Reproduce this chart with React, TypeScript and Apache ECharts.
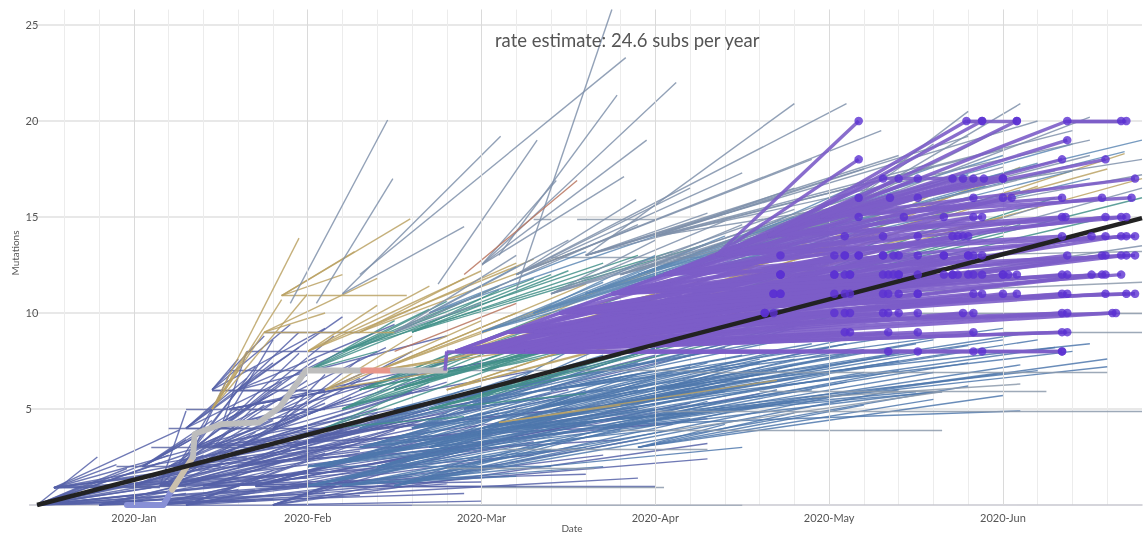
import React, { useEffect, useRef } from "react";
import * as echarts from "echarts";

// x values: months since 2020-01-01 ; y values: mutations from root
const monthLabels = ["2020-Jan", "2020-Feb", "2020-Mar", "2020-Apr", "2020-May", "2020-Jun"];
const monthTicks = [0, 1, 2, 3, 4, 5];
const mutationTicks = [5, 10, 15, 20, 25];
const rateText = "rate estimate: 24.6 subs per year";

const regressionLine = [[-0.557, 0], [5.8, 14.94]];

// fans: [parentX, parentY, childX1, childY1, childX2, childY2, ...]
const slateFans = [
  [-0.557, 0, -0.21, 2.5, -0.04, 1.9, 0.1, 0.9, 0.3, 1.6, 0.55, 2.2, 0.8, 1.2, 1.1, 0.6, 0.4, 0.4, 0.9, 2.9, 1.4, 1.8, -0.3, 1.0, 0.2, 2.6, 0.7, 0.2],
  [-0.557, 0, 0.0, 0.5, 0.2, 1.2, 0.5, 1.0, 0.35, 2.8, 0.15, 2.2, 0.6, 1.6, 0.95, 0.9, 1.25, 1.2, 0.05, 0.2],
  [-0.46, 0.9, 0.15, 0.9, 0.26, 3.9, 0.45, 3.2, 0.7, 2.4, 1.0, 3.3, 1.3, 2.8, 1.7, 2.0, 2.0, 1.2, -0.1, 2.1, 0.05, 1.5],
  [-0.2, 0.0, 0.3, 0.6, 0.6, 1.4, 0.9, 2.4, 1.2, 3.0, 0.5, 0.2, 1.6, 1.5, 1.9, 0.6],
  [0.0, 1.0, 0.4, 2.6, 0.7, 3.3, 1.0, 4.0, 1.3, 4.6, 1.7, 3.9, 2.0, 3.2, 0.9, 1.6],
  [0.05, 2.0, 0.3, 3.4, 0.45, 4.4, 0.6, 5.0, 0.8, 5.8, 1.0, 6.8, 0.7, 3.0],
  [0.15, 1.0, 0.3, 4.9, 0.5, 4.2, 0.7, 3.8, 0.95, 4.6, 1.2, 3.9, 1.55, 4.4, 1.9, 3.6, 2.3, 2.6, 2.6, 1.6, 1.0, 1.4, 0.4, 2.0],
  [0.2, 1.0, 0.5, 2.8, 0.75, 3.2, 1.0, 2.6, 1.3, 3.6, 1.6, 4.2],
  [0.2, 2.0, 0.5, 3.6, 0.8, 4.4, 1.1, 5.3, 1.4, 5.0, 1.8, 4.8, 2.2, 4.4, 0.65, 2.5],
  [0.25, 2.0, 0.45, 5.0, 0.6, 6.0, 0.75, 5.2, 1.0, 6.5, 1.25, 5.6, 1.6, 5.9, 2.0, 5.0, 2.4, 4.3, 2.8, 3.4, 0.5, 2.0, 0.55, 3.0],
  [0.3, 0.0, 0.8, 1.8, 1.1, 2.7, 1.5, 3.9, 1.9, 2.9, 2.3, 3.3, 2.7, 2.6, 1.3, 0.5],
  [0.3, 4.0, 0.5, 5.6, 0.65, 6.6, 0.8, 7.4, 0.95, 8.2, 1.2, 8.0, 0.55, 4.0],
  [0.35, 3.0, 0.55, 6.8, 0.7, 7.2, 0.85, 6.4, 1.05, 7.6, 1.35, 7.0, 1.75, 6.8, 2.2, 6.2, 2.7, 5.2, 3.1, 4.2, 0.8, 3.0, 0.6, 4.0],
  [0.45, 3.0, 0.75, 5.6, 1.0, 5.9, 1.3, 6.6, 1.7, 6.2, 2.1, 5.6, 2.5, 5.0],
  [0.45, 6.0, 0.6, 7.6, 0.75, 8.8, 0.9, 9.4, 1.1, 9.2, 1.0, 6.0],
  [0.5, 4.0, 0.65, 8.0, 0.8, 8.6, 0.95, 7.9, 1.15, 8.8, 1.45, 8.2, 1.85, 7.6, 2.3, 7.0, 0.7, 4.0, 0.9, 5.0],
  [0.1, 0.0, 0.6, 0.8, 1.0, 1.8, 1.4, 2.6, 1.8, 1.1, 2.1, 2.1, 2.5, 2.9, 2.9, 1.4, 3.3, 2.4, 1.6, 0.0, 0.8, 0.3],
  [0.6, 2.0, 1.0, 3.6, 1.3, 4.3, 1.6, 5.2, 2.0, 5.8, 2.4, 5.5, 2.9, 5.0, 3.3, 4.5],
  [0.6, 3.0, 0.9, 4.4, 1.1, 5.8, 1.4, 6.4, 1.8, 6.4, 2.1, 6.0],
  [0.7, 1.0, 1.2, 2.2, 1.6, 3.4, 2.0, 4.2, 2.4, 4.9, 2.8, 4.6, 3.2, 5.3, 3.6, 5.8, 2.2, 1.0, 3.0, 1.0],
  [0.8, 0.0, 1.3, 1.6, 1.7, 2.8, 2.1, 3.8, 2.5, 4.4, 2.9, 3.4, 3.3, 3.2, 2.0, 0.2],
  [0.8, 4.0, 1.1, 6.8, 1.3, 7.6, 1.6, 8.0, 2.0, 8.2, 1.2, 4.0],
  [0.9, 3.0, 1.4, 4.8, 1.8, 5.6, 2.2, 6.6, 2.6, 7.2, 3.0, 7.8, 3.4, 8.2, 1.6, 3.0, 2.5, 6.0],
  [0.6, 6.0, 0.95, 9.0, 1.2, 9.8, 1.5, 9.4, 1.1, 6.0, 1.8, 8.8],
  [0.4, 1.0, 0.9, 2.0, 1.3, 3.5, 1.7, 4.5, 2.1, 3.0, 2.5, 3.8, 1.5, 1.2],
  [0.55, 5.0, 1.1, 5.0, 1.3, 6.2, 1.6, 7.0, 2.0, 7.4, 2.5, 8.2],
];

// single segments: [x1, y1, x2, y2]
const slateSegments = [
  [0.1, 3, 0.6, 3], [0.2, 4, 0.8, 4], [0.3, 5, 0.9, 5], [0.45, 6, 1.0, 6], [0.55, 7, 1.2, 7],
  [0.65, 8, 1.2, 8], [0.75, 9, 1.3, 9], [-0.1, 2, 0.4, 2], [-0.3, 1, 0.3, 1],
];

const steelFans = [
  [1.0, 2.0, 1.8, 3.0, 2.2, 4.0, 2.6, 5.0, 3.0, 5.6, 3.4, 6.2, 3.8, 6.6, 4.2, 6.9, 4.6, 5.9, 5.0, 6.9, 2.4, 2.0, 3.0, 3.9],
  [1.0, 1.0, 1.6, 2.0, 2.0, 3.0, 2.3, 3.9, 2.6, 4.2, 3.0, 4.7, 3.4, 5.1, 3.8, 5.4, 2.2, 1.5],
  [1.1, 2.0, 1.7, 3.8, 2.1, 4.8, 2.5, 5.6, 2.9, 6.0, 3.3, 6.6, 3.7, 7.0],
  [1.2, 1.0, 2.0, 2.0, 2.4, 2.9, 2.8, 3.9, 3.1, 3.9, 2.7, 2.0, 3.5, 3.0],
  [1.3, 3.0, 2.0, 4.8, 2.4, 5.8, 2.8, 6.6, 3.2, 7.2, 3.6, 7.6, 4.0, 8.2, 4.4, 7.5, 3.0, 5.0, 5.2, 7.0, 5.6, 7.2],
  [1.3, 4.0, 1.9, 6.0, 2.3, 7.0, 2.7, 7.8, 3.1, 8.4, 3.5, 8.6, 3.9, 8.9],
  [1.4, 2.0, 2.0, 3.6, 2.4, 4.6, 2.8, 5.4, 3.2, 5.9, 3.6, 6.4, 4.0, 6.8, 4.4, 7.0, 2.6, 3.0],
  [1.5, 1.0, 2.0, 2.6, 2.4, 3.4, 2.8, 4.2, 3.2, 4.9, 3.6, 5.2, 4.0, 5.6, 4.4, 6.0, 4.8, 6.2],
  [1.5, 5.0, 2.0, 6.2, 2.4, 6.6, 2.9, 7.4, 3.3, 8.0, 3.7, 8.6, 4.1, 7.9],
  [1.6, 4.0, 2.2, 6.4, 2.6, 7.4, 3.0, 8.2, 3.4, 8.8, 3.8, 9.2, 4.3, 9.0, 3.2, 6.4, 5.4, 8.0],
  [1.7, 3.0, 2.2, 5.0, 2.6, 6.0, 3.0, 6.6, 3.4, 7.1, 3.8, 7.6, 4.2, 8.1, 4.8, 7.4, 3.2, 4.5],
  [1.9, 5.0, 2.5, 8.0, 2.9, 9.0, 3.3, 9.6, 3.7, 10.2, 4.1, 10.0, 2.7, 6.0, 3.6, 7.0],
  [2.0, 4.0, 2.6, 5.8, 3.0, 6.4, 3.4, 6.9, 3.8, 7.3, 4.3, 7.7, 4.8, 8.0, 5.3, 8.2],
  [2.2, 4.0, 2.9, 5.0, 3.4, 5.9, 3.9, 6.0, 4.5, 5.9, 5.1, 4.9, 3.3, 4.9, 4.65, 5.9],
  [2.3, 5.0, 2.9, 6.8, 3.3, 7.4, 3.7, 8.0, 4.1, 8.4, 4.6, 8.6, 5.1, 8.9],
  [2.4, 6.0, 3.0, 7.0, 3.5, 7.8, 3.9, 8.4, 4.4, 8.8, 5.0, 9.2],
  [2.6, 5.0, 3.2, 6.1, 3.6, 6.8, 4.0, 7.2, 4.4, 7.9, 4.8, 8.3, 5.2, 8.6],
  [2.7, 4.0, 3.3, 5.4, 3.7, 6.0, 4.1, 6.4, 4.6, 6.9, 5.1, 7.3, 5.6, 7.6],
  [2.9, 3.0, 3.4, 4.2, 3.8, 4.8, 4.2, 5.2, 4.6, 5.5, 5.0, 5.7],
  [3.0, 6.0, 3.6, 7.4, 4.0, 7.9, 4.5, 8.4, 5.0, 8.6, 5.5, 8.4],
];

// steel-blue band just above the purple clade
const bandFans = [
  [2.0, 9.0, 2.7, 11.6, 3.1, 12.6, 3.5, 13.4, 3.9, 14.4, 4.3, 14.8],
  [2.3, 10.0, 3.0, 13.0, 3.4, 14.0, 3.8, 15.0, 4.2, 15.6, 4.6, 16.4, 5.0, 17.0],
  [2.6, 11.0, 3.3, 13.6, 3.7, 14.6, 4.1, 15.4, 4.5, 16.0, 4.9, 16.6, 5.4, 17.4],
  [2.9, 12.0, 3.6, 14.4, 4.0, 15.4, 4.4, 16.4, 4.8, 17.2, 5.2, 17.8, 5.7, 18.4],
  [3.2, 12.0, 3.9, 14.2, 4.3, 15.0, 4.7, 15.8, 5.1, 16.4, 5.5, 17.0],
  [3.5, 14.0, 4.2, 16.8, 4.6, 17.6, 5.0, 18.2, 5.4, 18.8, 5.8, 19.0],
  [1.7, 10.0, 2.2, 12.4, 2.6, 13.2, 3.0, 14.0],
];

const greySegments = [
  [2.1, 2.9, 3.3, 2.9], [1.8, 1.9, 2.65, 1.9], [2.0, 0.95, 3.05, 0.95], [1.6, 0, 3.5, 0],
  [2.8, 3.9, 4.65, 3.9], [3.0, 4.9, 5.8, 4.9], [3.6, 5.9, 5.25, 5.9], [3.2, 6.9, 5.6, 6.9],
  [3.1, 3.9, 4.65, 5.9], [3.9, 5.6, 5.1, 6.3], [1.0, 7.0, 3.2, 7.0], [2.4, 12.9, 3.6, 12.9],
  [2.3, 14.9, 2.4, 14.9], [2.55, 14.9, 3.0, 14.9], [4.5, 10.0, 5.8, 10.0], [4.6, 13.0, 5.8, 13.2],
  [4.2, 11.0, 5.8, 11.6], [5.0, 9.0, 5.8, 9.0],
];

const oliveFans = [
  [0.45, 5.0, 0.75, 9.0, 0.85, 10.7, 0.95, 13.9, 1.0, 11.0, 0.65, 8.0, 0.6, 7.0],
  [0.85, 10.9, 1.57, 10.9, 1.27, 13.2, 1.59, 14.9, 1.2, 12.0],
  [0.75, 9.0, 1.5, 9.0, 1.1, 10.0, 1.4, 11.8],
  [1.0, 8.0, 1.4, 10.4, 1.7, 11.4, 2.0, 12.2, 2.3, 12.8],
  [1.1, 6.0, 1.6, 8.8, 2.0, 9.6, 2.4, 10.4, 1.8, 7.0],
  [1.3, 9.0, 1.9, 11.8, 2.2, 12.6, 2.6, 13.4],
  [1.4, 7.0, 2.2, 10.0, 2.6, 11.5, 3.0, 12.2, 2.4, 8.5, 3.4, 9.5, 3.9, 11.0],
  [1.9, 8.0, 2.6, 10.8, 3.1, 11.8, 3.6, 12.2, 4.1, 13.5],
  [2.1, 4.3, 3.7, 6.5, 2.8, 5.2],
  [1.8, 6.0, 2.8, 9.0, 3.3, 10.5, 4.3, 12.0, 4.8, 13.0],
  [2.6, 10.0, 3.6, 12.5, 4.2, 14.0, 5.0, 15.0],
  [3.0, 10.0, 3.8, 13.4, 4.5, 15.2, 5.2, 16.6, 5.8, 17.0],
  [3.4, 12.0, 4.4, 15.5, 5.0, 17.0, 5.6, 17.5],
  [3.9, 13.0, 4.6, 16.2, 5.1, 17.6, 5.7, 18.3],
];

const tealFans = [
  [1.0, 7.0, 1.5, 9.6, 1.8, 10.6, 2.1, 11.4, 2.4, 12.0, 1.4, 8.0],
  [1.1, 4.0, 1.7, 6.4, 2.1, 7.2, 2.5, 7.0, 1.9, 4.6],
  [1.2, 5.0, 1.8, 7.6, 2.2, 8.8, 2.6, 9.4, 3.0, 10.0, 1.6, 6.0],
  [1.2, 8.0, 1.7, 10.2, 2.0, 11.0, 2.3, 11.8, 2.7, 12.6, 3.1, 13.2],
  [1.3, 6.0, 2.0, 8.5, 2.4, 10.0, 2.8, 10.8, 3.2, 11.4, 2.2, 7.6, 3.0, 9.2],
  [1.5, 6.0, 2.1, 8.2, 2.5, 9.0, 2.9, 9.8, 3.3, 10.6, 3.7, 11.4, 4.2, 12.2],
  [1.6, 9.0, 2.1, 11.2, 2.5, 12.2, 2.9, 13.0, 3.3, 13.6],
  [1.7, 5.0, 2.4, 6.8, 2.8, 7.8, 3.2, 8.6, 3.6, 9.4, 4.0, 9.8, 2.6, 5.8],
  [2.0, 7.0, 2.7, 9.6, 3.1, 10.2, 3.5, 11.0, 4.0, 11.5, 4.6, 12.0],
  [2.3, 8.0, 3.0, 10.6, 3.4, 11.6, 3.9, 12.4, 4.4, 13.2, 5.0, 14.0],
  [2.8, 9.0, 3.5, 11.8, 4.0, 12.8, 4.5, 13.6, 5.1, 14.6, 5.6, 15.0],
  [3.6, 11.0, 4.3, 13.8, 4.8, 15.0, 5.3, 16.0, 5.8, 16.0],
];

const skyFans = [
  [0.9, 10.5, 1.46, 20.05],
  [1.05, 10.5, 1.49, 17.0],
  [1.2, 11.0, 2.11, 19.2, 1.9, 14.5],
  [1.3, 12.0, 2.83, 23.3],
  [2.2, 11.2, 2.75, 25.8],
  [2.1, 13.0, 2.78, 21.35],
  [1.75, 11.5, 2.32, 19.0],
  [1.5, 9.0, 2.2, 13.0, 2.5, 13.8, 2.9, 14.6, 2.0, 10.5],
  [2.0, 12.5, 2.95, 19.0, 2.82, 17.1, 2.43, 16.9, 3.12, 22.0],
  [2.2, 12.0, 2.89, 15.9, 3.2, 16.5, 3.5, 17.3, 3.9, 18.0, 4.3, 19.5, 4.1, 20.9],
  [2.4, 11.0, 3.0, 13.8, 3.4, 14.8, 3.8, 15.4, 4.2, 16.2, 4.6, 16.8],
  [2.6, 13.0, 3.3, 15.2, 3.7, 16.0, 4.4, 18.2, 4.8, 19.2, 3.8, 20.9, 5.2, 20.0, 5.4, 19.5],
  [2.8, 12.0, 3.5, 14.6, 4.0, 15.8, 4.5, 16.9, 5.0, 17.6, 5.5, 18.2],
  [3.0, 14.0, 3.8, 16.5, 4.2, 17.5, 4.6, 17.8, 5.0, 18.5, 5.5, 19.0, 5.8, 18.0],
  [3.2, 10.0, 4.0, 13.0, 4.6, 14.5, 5.2, 15.5, 5.8, 16.5, 5.8, 13.5],
  [3.3, 13.0, 4.0, 15.2, 4.5, 16.0, 4.9, 16.9, 5.3, 17.4, 5.8, 17.2],
  [4.0, 15.0, 4.6, 18.8, 5.0, 19.6, 5.5, 20.2, 5.1, 20.9, 4.8, 20.5],
];

const rustSegments = [[1.9, 12.0, 2.55, 16.9], [1.5, 8.0, 2.2, 10.5]];

// highlighted lineage (thick)
const lavenderPath = [[-0.04, 0], [0.17, 0], [0.22, 0.8]];
const beigePath = [[0.22, 0.8], [0.34, 2.5]];
const greyPathA = [[0.34, 2.5], [0.35, 3.7], [0.5, 4.2], [0.72, 4.3], [0.84, 5.1], [0.94, 6.35], [0.99, 7.0], [1.32, 7.0]];
const salmonPath = [[1.32, 7.0], [1.49, 7.0]];
const greyPathB = [[1.49, 7.0], [1.79, 7.0]];

// purple clade internal branches [x1, y1, x2, y2]
const purpleInternal = [
  [1.79, 7, 1.8, 8], [1.8, 8, 3.7, 8], [1.85, 8, 2.15, 9], [2.05, 8, 2.35, 9], [2.15, 9, 2.55, 10],
  [2.25, 8, 2.65, 9], [2.65, 9, 2.85, 10], [2.85, 10, 3.15, 11], [1.85, 8, 2.45, 10],
  [2.45, 10, 2.75, 11], [2.75, 11, 3.05, 12], [3.05, 12, 3.35, 13], [3.35, 13, 3.65, 14], [3.65, 14, 3.95, 15],
];

// purple clade tips grouped by parent node
const purpleFans = [
  [1.85, 8, 4.34, 8, 4.51, 8, 4.09, 9, 4.83, 9, 3.63, 10, 4.31, 10, 5.34, 10, 3.68, 11, 4.51, 11],
  [1.9, 8, 3.63, 10, 3.68, 11, 4.03, 12, 4.09, 13, 3.72, 12],
  [1.95, 8, 4.83, 8, 4.88, 8, 5.34, 8, 4.12, 9, 5.37, 9, 4.03, 10, 4.77, 10, 4.03, 11, 4.88, 11, 3.72, 12],
  [2.05, 8, 4.34, 9, 4.51, 9, 5.34, 9, 3.68, 10, 4.09, 10, 5.63, 10, 5.0, 11, 4.03, 12, 4.09, 12, 3.72, 13],
  [2.1, 8, 3.72, 11, 4.12, 12, 4.31, 13, 4.4, 12, 4.51, 11],
  [2.15, 9, 4.12, 10, 4.34, 10, 5.65, 10, 5.37, 10, 4.31, 11, 5.34, 11, 4.12, 12, 4.31, 12, 4.03, 13, 4.09, 13],
  [2.25, 8, 4.4, 10, 4.51, 10, 4.83, 10, 4.12, 11, 4.34, 11, 5.08, 11, 4.34, 12, 4.37, 12, 4.37, 13],
  [2.3, 9, 4.17, 13, 4.66, 13, 4.71, 12, 4.8, 13, 5.0, 12],
  [2.35, 9, 4.4, 11, 4.83, 11, 5.37, 11, 5.59, 11, 4.51, 12, 5.0, 12, 4.4, 13, 4.66, 13],
  [2.55, 10, 5.71, 11, 5.76, 11, 4.71, 12, 5.03, 12, 5.08, 12, 4.74, 12, 5.34, 12, 4.8, 13, 4.71, 14],
  [2.65, 9, 4.83, 12, 4.88, 12, 5.51, 12, 5.57, 12, 4.83, 13, 5.57, 13, 4.77, 14, 5.51, 14],
  [2.85, 10, 5.37, 12, 5.68, 12, 5.59, 13, 5.71, 13, 5.68, 14],
  [2.45, 10, 3.72, 11, 4.09, 11, 4.4, 12, 4.66, 12, 3.72, 12, 4.31, 13, 4.51, 13, 5.37, 13, 4.09, 14],
  [2.75, 11, 4.8, 12, 5.59, 12, 4.17, 13, 4.88, 13, 5.68, 13, 4.31, 14, 4.74, 14, 5.59, 14, 4.17, 15, 4.66, 15],
  [3.05, 12, 5.76, 13, 4.51, 14, 4.8, 14, 5.71, 14, 4.43, 15, 4.88, 15, 5.59, 15, 4.17, 16, 4.51, 16, 4.35, 16],
  [3.35, 13, 5.34, 14, 5.76, 14, 4.83, 15, 5.36, 15, 5.71, 15, 4.83, 16, 5.05, 16, 4.31, 17, 4.51, 17, 4.17, 18, 4.17, 20],
  [3.65, 14, 5.34, 15, 5.68, 15, 5.0, 16, 5.57, 16, 4.4, 17, 4.71, 17, 4.83, 17, 5.34, 18, 4.79, 20, 4.88, 20],
  [3.95, 15, 5.34, 16, 5.74, 16, 4.77, 17, 4.89, 17, 5.0, 17, 5.76, 17, 5.59, 18, 5.37, 19, 5.08, 20, 5.37, 20],
  [4.79, 20, 4.88, 20, 5.08, 20],
  [5.37, 20, 5.68, 20, 5.71, 20],
  [4.31, 17, 5.0, 17],
  [4.34, 8, 5.34, 8],
];

function fanSegments(fans: number[][]) {
  const out: any[] = [];
  for (const f of fans) {
    for (let i = 2; i + 1 < f.length; i += 2) {
      out.push({ coords: [[f[0], f[1]], [f[i], f[i + 1]]] });
    }
  }
  return out;
}
function pairSegments(list: number[][]) {
  return list.map((s) => ({ coords: [[s[0], s[1]], [s[2], s[3]]] }));
}
function fanTips(fans: number[][]) {
  const out: number[][] = [];
  for (const f of fans) {
    for (let i = 2; i + 1 < f.length; i += 2) out.push([f[i], f[i + 1]]);
  }
  return out;
}

const FONT = "Lato, 'Open Sans', sans-serif";

function thin(name: string, data: any[], color: string, width = 1.4, opacity = 0.85, z = 2) {
  return {
    type: "lines",
    name,
    coordinateSystem: "cartesian2d",
    polyline: false,
    silent: true,
    z,
    lineStyle: { color, width, opacity },
    data,
  };
}
function thick(data: number[][], color: string, width: number, z = 4) {
  return {
    type: "line",
    data,
    symbol: "none",
    silent: true,
    clip: false,
    z,
    lineStyle: { color, width, cap: "round", join: "round" },
  };
}

export default function App() {
  const ref = useRef<HTMLDivElement>(null);
  useEffect(() => {
    if (!ref.current) return;
    const chart = echarts.init(ref.current, undefined, { renderer: "svg" });
    const option: any = {
      animation: false,
      title: {
        text: rateText,
        left: 490,
        top: 25,
        textStyle: { fontFamily: FONT, fontSize: 18.5, fontWeight: "normal", color: "#555" },
      },
      grid: { left: 29.6, right: 1.8, top: 9.6, bottom: 28, containLabel: false },
      xAxis: {
        type: "value",
        min: -0.6,
        max: 5.8,
        interval: 0.2,
        axisLine: { show: true, lineStyle: { color: "#c8c8d0", width: 1.5 } },
        axisTick: { show: false },
        splitLine: { show: true, showMinLine: false, showMaxLine: false, lineStyle: { color: "#ececec", width: 1 } },
        axisLabel: {
          margin: 7,
          fontFamily: FONT,
          fontSize: 11,
          color: "#555",
          formatter: (v: number) => {
            const r = Math.round(v);
            if (Math.abs(v - r) < 1e-6 && monthTicks.indexOf(r) >= 0) return monthLabels[r];
            return "";
          },
        },
      },
      yAxis: {
        type: "value",
        min: 0,
        max: 25.8,
        interval: 5,
        axisLine: { show: false },
        axisTick: { show: false },
        splitLine: { show: true, showMinLine: false, showMaxLine: false, lineStyle: { color: "#e0e0e0", width: 1.5 } },
        axisLabel: {
          align: "left",
          margin: 4,
          fontFamily: FONT,
          fontSize: 11,
          color: "#555",
          formatter: (v: number) => (mutationTicks.indexOf(v) >= 0 ? String(v) : ""),
        },
      },
      graphic: [
        {
          type: "text",
          x: 15,
          y: 253,
          rotation: Math.PI / 2,
          style: { text: "Mutations", align: "center", verticalAlign: "middle", fontSize: 10, fill: "#555", fontFamily: FONT },
        },
        {
          type: "text",
          x: 572,
          y: 528,
          style: { text: "Date", align: "center", verticalAlign: "middle", fontSize: 10, fill: "#555", fontFamily: FONT },
        },
      ],
      series: [
        {
          type: "line",
          data: [[-0.6, 0]],
          symbol: "none",
          silent: true,
          z: 0,
          lineStyle: { opacity: 0 },
          markLine: {
            silent: true,
            symbol: ["none", "none"],
            label: { show: false },
            lineStyle: { color: "#dadada", width: 1, type: "solid" },
            data: monthTicks.map((v) => ({ xAxis: v })),
          },
        },
        thin("slate", fanSegments(slateFans), "#5662a8"),
        thin("slateFlat", pairSegments(slateSegments), "#5d67a6"),
        thin("steel", fanSegments(steelFans), "#4f78ad"),
        thin("grey", pairSegments(greySegments), "#8c9aac"),
        thin("teal", fanSegments(tealFans), "#43918a"),
        thin("olive", fanSegments(oliveFans), "#bba264"),
        thin("band", fanSegments(bandFans), "#5f8ab5"),
        thin("sky", fanSegments(skyFans), "#7f91aa"),
        thin("rust", pairSegments(rustSegments), "#b8745e"),
        thick(lavenderPath, "#8890d6", 6),
        thick(beigePath, "#cbc0ad", 6),
        thick(greyPathA, "#bdbdbd", 6),
        thick(salmonPath, "#e8968a", 6),
        thick(greyPathB, "#bdbdbd", 6),
        thin("purpleInternal", pairSegments(purpleInternal), "#7c5dc8", 3.5, 0.95, 5),
        thin("purpleTips", fanSegments(purpleFans), "#7c5dc8", 3.4, 0.9, 5),
        {
          type: "line",
          data: regressionLine,
          symbol: "none",
          silent: true,
          z: 6,
          lineStyle: { color: "#222", width: 4.5 },
        },
        {
          type: "scatter",
          data: fanTips(purpleFans),
          symbol: "circle",
          symbolSize: 8.5,
          silent: true,
          z: 7,
          itemStyle: { color: "#5b31d2" },
        },
      ],
    };
    chart.setOption(option);
    return () => chart.dispose();
  }, []);
  return <div ref={ref} style={{ position: "fixed", left: 0, top: 0, width: 1145, height: 533 }} />;
}
